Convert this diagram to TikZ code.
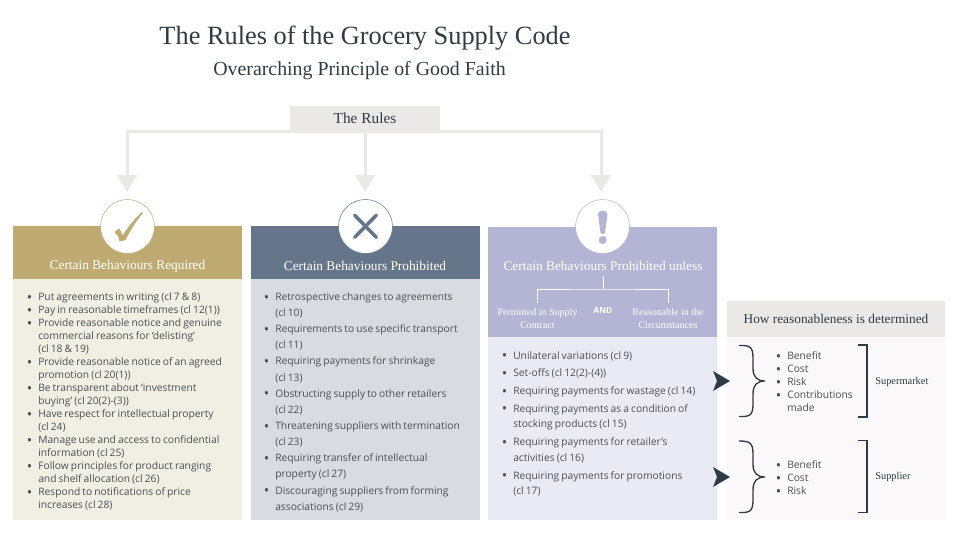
\documentclass[tikz,border=0pt]{standalone}
\usepackage{fontspec}
\setmainfont{Open Sans}
\newfontfamily\headfont{Liberation Serif}
\usetikzlibrary{arrows.meta}
\definecolor{inkdark}{HTML}{2F3B45}
\definecolor{inkbody}{HTML}{4A4F55}
\definecolor{rulegrey}{HTML}{EBE8E8}
\definecolor{palegrey}{HTML}{FAF8F8}
\definecolor{goldhead}{HTML}{BFAB72}
\definecolor{goldbody}{HTML}{F1EEE3}
\definecolor{slatehead}{HTML}{66768A}
\definecolor{slatebody}{HTML}{D8DCE1}
\definecolor{lilachead}{HTML}{B4B4D4}
\definecolor{lilacbody}{HTML}{EAEAF4}
\newenvironment{clauselist}[1]{\spaceskip=0.2em\relax\begin{list}{\llap{\raisebox{-0.17em}{\scalebox{1.4}{\textbullet}}}}{\setlength\leftmargin{7.5pt}\setlength\labelsep{4.5pt}\setlength\labelwidth{3pt}\setlength\itemindent{0pt}\setlength\itemsep{#1}\setlength\parsep{0pt}\setlength\topsep{0pt}\setlength\partopsep{0pt}}}{\end{list}}
\begin{document}
\begin{tikzpicture}[x=0.75pt,y=-0.75pt,
  headtext/.style={font=\headfont\fontsize{10}{12}\selectfont,text=white,align=center,inner sep=0pt},
  subtext/.style={font=\headfont\fontsize{7.5}{10}\selectfont,text=white,align=center,inner sep=0pt},
  listtext/.style={anchor=north west,inner sep=0pt,text width=#1,text=inkbody},
  badge/.style={circle,fill=white,draw=#1,line width=0.4pt,minimum size=40.5pt,inner sep=0pt},
  ruleline/.style={draw=rulegrey,line width=2.25pt,-{Triangle[length=12.75pt,width=15pt]}},
  brace/.style={draw=inkdark,line width=1pt}]
\useasboundingbox (0,0) rectangle (959,540);
\coordinate (A) at (127,192);
\coordinate (B) at (365,192);
\coordinate (C) at (601,192);
\fill[goldbody] (13,279) rectangle (242,520);
\fill[goldhead] (13,226) rectangle (242,279);
\fill[slatebody] (251,279) rectangle (480,520);
\fill[slatehead] (251,226) rectangle (480,279);
\fill[lilacbody] (488,337) rectangle (717,520);
\fill[lilachead] (488,227) rectangle (717,337);
\fill[palegrey] (727,337) rectangle (945,520);
\fill[rulegrey] (727,301) rectangle (945,337);
\node[font=\headfont\fontsize{19.75}{24}\selectfont,text=inkdark,inner sep=0pt] (title) at (365,38) {The Rules of the Grocery Supply Code};
\node[font=\headfont\fontsize{14.9}{18}\selectfont,text=inkdark,inner sep=0pt] (subtitle) at (359.5,71) {Overarching Principle of Good Faith};
\node[fill=rulegrey,minimum width=112.5pt,minimum height=18.75pt,inner sep=0pt,text=inkdark,font=\headfont\fontsize{11.5}{14}\selectfont] (rules) at (365,118.5) {The Rules};
\draw[ruleline] (rules.south) -| (A);
\draw[ruleline] (rules.south) -- (B);
\draw[ruleline] (rules.south) -| (C);
\node[badge=goldhead] (tick) at (127.5,226.5) {};
\node[badge=slatehead] (cross) at (365.5,226.5) {};
\node[badge=lilachead] (bang) at (602.5,226.5) {};
\fill[goldhead] (114.5,232) .. controls (116.5,230) and (118,229) .. (119.5,228.5) .. controls (120.5,230) and (121.5,233) .. (122.5,235.5) .. controls (128,227) and (136,217) .. (142,212) -- (143,213) .. controls (136,221) and (130,231) .. (125.5,240) -- (119.5,241.5) .. controls (119,237) and (117,234) .. (114.5,232) -- cycle;
\draw[slatehead,line width=2.6pt,line cap=round] (354.5,215) -- (376.5,237.5);
\draw[slatehead,line width=2.6pt,line cap=round] (376.5,215) -- (354.5,237.5);
\fill[lilachead] (598,214) .. controls (598,209.5) and (607.5,209.5) .. (607.5,214) -- (605,233) .. controls (604.5,234.5) and (601,234.5) .. (600.5,233) -- cycle;
\fill[lilachead] (602.7,240) circle [radius=4];
\node[headtext] (reqhead) at (127.5,266) {Certain Behaviours Required};
\node[headtext] (prohead) at (365,266) {Certain Behaviours Prohibited};
\node[headtext] (unlesshead) at (603,266) {Certain Behaviours Prohibited unless};
\node[subtext] (permitted) at (537.5,318.5) {Permitted in Supply\\Contract};
\node[subtext] (reasonable) at (668,318.5) {Reasonable in the\\Circumstances};
\node[text=white,inner sep=0pt,font=\bfseries\fontsize{6.2}{8}\selectfont] (and) at (603,311) {AND};
\coordinate (D) at (603,276);
\coordinate (E) at (603,289);
\coordinate (F) at (537.5,303);
\coordinate (G) at (668,303);
\draw[white,line width=0.6pt] (D) -- (E);
\draw[white,line width=0.6pt] (F) |- (E) -| (G);
\node[listtext=205pt*0.75] (reqlist) at (28,287.5) {\fontsize{7.7}{9.75}\selectfont
\begin{clauselist}{0pt}
\item Put agreements in writing (cl 7 \& 8)
\item Pay in reasonable timeframes (cl 12(1))
\item Provide reasonable notice and genuine\\commercial reasons for ‘delisting’\\(cl 18 \& 19)
\item Provide reasonable notice of an agreed\\promotion (cl 20(1))
\item Be transparent about ‘investment\\buying’ (cl 20(2)-(3))
\item Have respect for intellectual property\\(cl 24)
\item Manage use and access to confidential\\information (cl 25)
\item Follow principles for product ranging\\and shelf allocation (cl 26)
\item Respond to notifications of price\\increases (cl 28)
\end{clauselist}};
\node[listtext=205pt*0.75] (prolist) at (265,284) {\fontsize{7.7}{12.1}\selectfont
\begin{clauselist}{0pt}
\item Retrospective changes to agreements\\(cl 10)
\item Requirements to use specific transport\\(cl 11)
\item Requiring payments for shrinkage\\(cl 13)
\item Obstructing supply to other retailers\\(cl 22)
\item Threatening suppliers with termination\\(cl 23)
\item Requiring transfer of intellectual\\property (cl 27)
\item Discouraging suppliers from forming\\associations (cl 29)
\end{clauselist}};
\node[listtext=205pt*0.75] (unlesslist) at (503,343) {\fontsize{7.7}{11.8}\selectfont
\begin{clauselist}{1.5pt}
\item Unilateral variations (cl 9)
\item Set-offs (cl 12(2)-(4))
\item Requiring payments for wastage (cl 14)
\item Requiring payments as a condition of\\stocking products (cl 15)
\item Requiring payments for retailer’s\\activities (cl 16)
\item Requiring payments for promotions\\(cl 17)
\end{clauselist}};
\node[text=inkdark,inner sep=0pt,font=\headfont\fontsize{10}{12}\selectfont] (reasonhead) at (836,319) {How reasonableness is determined};
\node[listtext=90pt*0.75] (marketlist) at (777,346) {\fontsize{7.7}{9.75}\selectfont
\begin{clauselist}{0pt}
\item Benefit
\item Cost
\item Risk
\item Contributions\\made
\end{clauselist}};
\node[listtext=90pt*0.75] (supplierlist) at (777,455) {\fontsize{7.7}{9.75}\selectfont
\begin{clauselist}{0pt}
\item Benefit
\item Cost
\item Risk
\end{clauselist}};
\node[anchor=west,inner sep=0pt,text=inkdark,font=\headfont\fontsize{7.8}{9}\selectfont] (market) at (875,381.5) {Supermarket};
\node[anchor=west,inner sep=0pt,text=inkdark,font=\headfont\fontsize{7.8}{9}\selectfont] (supplier) at (875,477) {Supplier};
\draw[brace] (739,345.5) .. controls (750,345) and (753,347) .. (753,358) -- (753,368) .. controls (753,377) and (757,381) .. (765,381) .. controls (757,381) and (753,385) .. (753,394) -- (753,404) .. controls (753,415) and (750,417) .. (739,416.5);
\draw[brace] (739,441) .. controls (750,441) and (753,443) .. (753,454) -- (753,464) .. controls (753,473) and (757,477) .. (765,477) .. controls (757,477) and (753,481) .. (753,490) -- (753,500) .. controls (753,511) and (750,513) .. (739,512.5);
\draw[brace] (858,345) -- (867,345) -- (867,417) -- (858,417);
\draw[brace] (858,440.5) -- (867,440.5) -- (867,512.5) -- (858,512.5);
\fill[inkdark] (713,371) -- (730,381) -- (713,391) -- (717,381) -- cycle;
\fill[inkdark] (713,467) -- (730,477) -- (713,487) -- (717,477) -- cycle;
\end{tikzpicture}
\end{document}
